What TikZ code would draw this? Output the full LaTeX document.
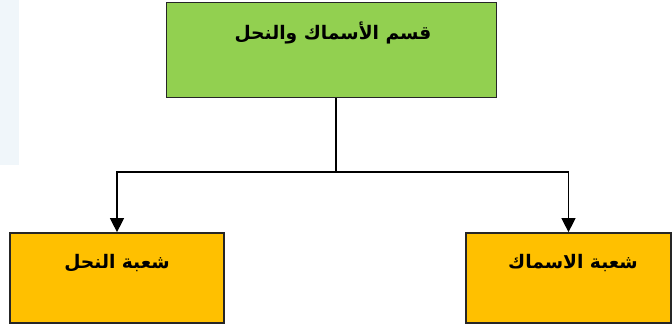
\documentclass[tikz,border=0pt]{standalone}
\usepackage{fontspec}
\newfontfamily\arabicfont[Script=Arabic]{DejaVu Sans}
\TeXXeTstate=1
\usetikzlibrary{arrows.meta}
\definecolor{boxgreen}{HTML}{92D050}
\definecolor{boxorange}{HTML}{FFC000}
\definecolor{panelblue}{HTML}{F0F6FA}

\begin{document}
\begin{tikzpicture}[x=0.75pt,y=-0.75pt,
    unit/.style={draw=black!85,line width=1.3pt,inner sep=0pt},
    caption/.style={font=\arabicfont\bfseries\fontsize{14}{17}\selectfont,inner sep=0pt},
    link/.style={line width=1pt},
    tip/.style={-{Triangle[width=10.5pt,length=10.5pt]}}]
    \useasboundingbox (0,0) rectangle (672,329);
    \fill[panelblue] (0,0) rectangle (19,165);

    % boxes
    \node[unit,fill=boxgreen,minimum width=247.5pt,minimum height=71.25pt] (dept) at (331.5,50) {};
    \node[unit,fill=boxorange,minimum width=160.5pt,minimum height=67.5pt] (bees) at (117,278) {};
    \node[unit,fill=boxorange,minimum width=153.75pt,minimum height=67.5pt] (fish) at (568.5,278) {};

    % texts
    \node[caption] (depttext) at (333,33) {\beginR قسم الأسماك والنحل\endR};
    \node[caption] (beestext) at (117,263) {\beginR شعبة النحل\endR};
    \node[caption] (fishtext) at (573,263) {\beginR شعبة الاسماك\endR};

    % connectors
    \coordinate (split) at (336,172);
    \draw[link] (dept.south -| split) -- (split);
    \draw[link,tip] (split) -| (bees.north);
    \draw[link,tip] (split) -| (fish.north);
\end{tikzpicture}
\end{document}
